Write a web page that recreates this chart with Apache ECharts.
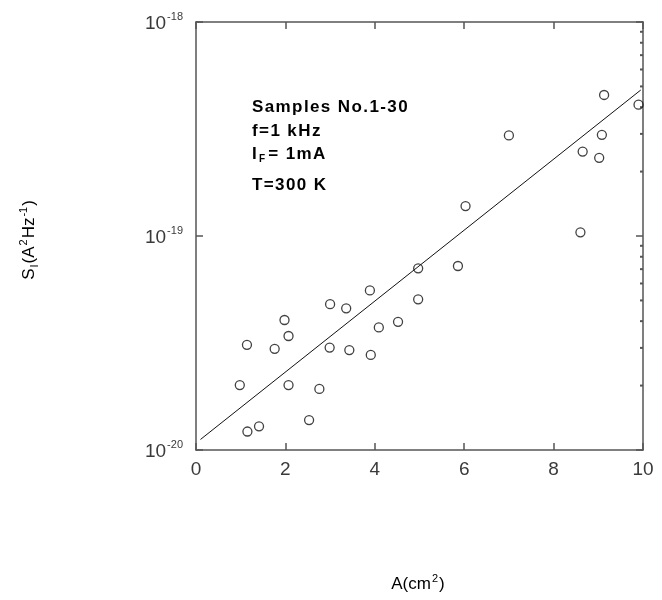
<!DOCTYPE html>
<html>
<head>
<meta charset="utf-8">
<script src="https://cdn.jsdelivr.net/npm/echarts@6/dist/echarts.min.js"></script>
<style>
html, body { margin: 0; padding: 0; background: #fff; }
#chart { width: 662px; height: 600px; }
</style>
</head>
<body>
<div id="chart"></div>
<script>
// Device area (cm^2) and current-noise spectral density S_I (A^2/Hz) per sample
const areaCm2 = [
  0.98, 1.14, 1.15, 1.41, 1.76, 1.98, 2.07, 2.07, 2.53, 2.76,
  3.00, 2.99, 3.36, 3.43, 3.89, 3.91, 4.09, 4.52, 4.97, 4.97,
  5.86, 6.03, 7.00, 8.60, 8.65, 9.02, 9.08, 9.13, 9.90
];
const noisePSD = [
  2.01e-20, 3.10e-20, 1.22e-20, 1.29e-20, 2.97e-20, 4.05e-20, 3.41e-20, 2.01e-20, 1.38e-20, 1.93e-20,
  4.80e-20, 3.01e-20, 4.59e-20, 2.93e-20, 5.57e-20, 2.78e-20, 3.74e-20, 3.97e-20, 7.06e-20, 5.06e-20,
  7.24e-20, 1.38e-19, 2.95e-19, 1.04e-19, 2.48e-19, 2.32e-19, 2.97e-19, 4.56e-19, 4.11e-19
];

// Least-squares trend line end points
const fitArea = [0.1, 9.95];
const fitPSD = [1.12e-20, 4.81e-19];

// Axis ranges and ticks
const xMin = 0, xMax = 10, xStep = 2;
const yMin = 1e-20, yMax = 1e-18;
const minorTickValues = [
  2e-20, 3e-20, 4e-20, 5e-20, 6e-20, 7e-20, 8e-20, 9e-20,
  2e-19, 3e-19, 4e-19, 5e-19, 6e-19, 7e-19, 8e-19, 9e-19
];

const FRAME = '#555555';
const LABEL = '#3a3a3a';
const FONT = '"Liberation Sans", Arial, sans-serif';

// Spread the characters of a string a little apart (one rich token per char)
const spaced = (s, style) => Array.from(s).map(ch => '{' + style + '|' + ch + '}').join('');

// Annotation lines
const infoLines = [
  spaced('Samples No.1-30', 'c'),
  spaced('f=1 kHz', 'c'),
  spaced('I', 'c') + '{sub|F}' + spaced('= 1mA', 'c'),
  spaced('T=300 K', 'c')
];
const infoY = [107, 131, 154, 185];

const chart = echarts.init(document.getElementById('chart'), null, { renderer: 'canvas' });

const gridBox = { left: 196, top: 22, right: 19, bottom: 150 };

const yLabelFormatter = v => {
  const e = Math.round(Math.log10(v));
  return '{b|10}{s|' + e + '}';
};

const frameLine = { show: true, onZero: false, lineStyle: { color: FRAME, width: 1.5 } };
const majorTick = { show: true, inside: true, length: 7, lineStyle: { color: FRAME, width: 1.5 } };

chart.setOption({
  animation: false,
  backgroundColor: '#ffffff',
  grid: Object.assign({ containLabel: false }, gridBox),
  xAxis: [
    {
      type: 'value', min: xMin, max: xMax, interval: xStep, position: 'bottom',
      axisLine: frameLine, axisTick: majorTick,
      splitLine: { show: false },
      axisLabel: { color: LABEL, fontFamily: FONT, fontSize: 19, margin: 10 }
    },
    {
      type: 'value', min: xMin, max: xMax, interval: xStep, position: 'top',
      axisLine: frameLine, axisTick: majorTick,
      splitLine: { show: false },
      axisLabel: { show: false }
    }
  ],
  yAxis: [
    {
      type: 'log', logBase: 10, min: yMin, max: yMax, position: 'left',
      axisLine: frameLine, axisTick: majorTick,
      minorTick: { show: false },
      splitLine: { show: false },
      axisLabel: {
        margin: 13,
        formatter: yLabelFormatter,
        rich: {
          b: { color: LABEL, fontFamily: FONT, fontSize: 19, lineHeight: 22, verticalAlign: 'bottom' },
          s: { color: LABEL, fontFamily: FONT, fontSize: 11, lineHeight: 22, verticalAlign: 'top', padding: [0, 0, 4, 1] }
        }
      }
    },
    {
      type: 'log', logBase: 10, min: yMin, max: yMax, position: 'right',
      axisLine: frameLine, axisTick: majorTick,
      minorTick: { show: false },
      splitLine: { show: false },
      axisLabel: { show: false }
    }
  ],
  series: [
    {
      name: 'trend',
      type: 'line',
      xAxisIndex: 0, yAxisIndex: 0,
      data: fitArea.map((a, i) => [a, fitPSD[i]]),
      showSymbol: false,
      symbol: 'none',
      lineStyle: { color: '#111', width: 1 },
      z: 3
    },
    {
      name: 'samples',
      type: 'scatter',
      xAxisIndex: 0, yAxisIndex: 0,
      data: areaCm2.map((a, i) => [a, noisePSD[i]]),
      symbol: 'circle',
      symbolSize: 9,
      itemStyle: { color: 'rgba(255,255,255,0)', borderColor: '#111', borderWidth: 1.3 },
      z: 4
    },
    {
      // small log-spaced minor ticks along the right frame
      name: 'minorTicks',
      type: 'custom',
      xAxisIndex: 0, yAxisIndex: 0,
      clip: false,
      silent: true,
      data: minorTickValues.map(v => [xMax, v]),
      renderItem: (params, api) => {
        const p = api.coord([api.value(0), api.value(1)]);
        return {
          type: 'line',
          shape: { x1: p[0] - 3, y1: p[1], x2: p[0], y2: p[1] },
          style: { stroke: FRAME, lineWidth: 2 }
        };
      },
      z: 2
    }
  ],
  graphic: [
    {
      type: 'text', x: 418, y: 583, silent: true,
      style: {
        text: '{m|A(cm}{sup|2}{m|)}',
        align: 'center', verticalAlign: 'middle',
        rich: {
          m: { fontFamily: FONT, fontSize: 17, color: LABEL, lineHeight: 20, verticalAlign: 'bottom' },
          sup: { fontFamily: FONT, fontSize: 11, color: LABEL, lineHeight: 20, verticalAlign: 'top', padding: [0, 1, 4, 1] }
        }
      }
    },
    {
      type: 'text', x: 29, y: 240, rotation: Math.PI / 2, silent: true,
      style: {
        text: '{m|S}{sub|I}{m|(A}{sup|2}{m|Hz}{sup|-1}{m|)}',
        align: 'center', verticalAlign: 'middle',
        rich: {
          m: { fontFamily: FONT, fontSize: 17, color: LABEL, lineHeight: 22, verticalAlign: 'middle' },
          sub: { fontFamily: FONT, fontSize: 11, color: LABEL, lineHeight: 22, verticalAlign: 'bottom', padding: [6, 1, 0, 1] },
          sup: { fontFamily: FONT, fontSize: 11, color: LABEL, lineHeight: 22, verticalAlign: 'top', padding: [0, 1, 6, 1] }
        }
      }
    }
  ].concat(infoLines.map((t, i) => ({
    type: 'text', x: 252, y: infoY[i], silent: true,
    style: {
      text: t,
      align: 'left', verticalAlign: 'middle',
      rich: {
        c: { fontFamily: FONT, fontSize: 17, fontWeight: 'bold', color: '#000', lineHeight: 20, verticalAlign: 'middle', padding: [0, 1.4, 0, 0] },
        sub: { fontFamily: FONT, fontSize: 10, fontWeight: 'bold', color: '#000', lineHeight: 20, verticalAlign: 'bottom', padding: [12, 3, 0, 1] }
      }
    }
  })))
});
</script>
</body>
</html>
